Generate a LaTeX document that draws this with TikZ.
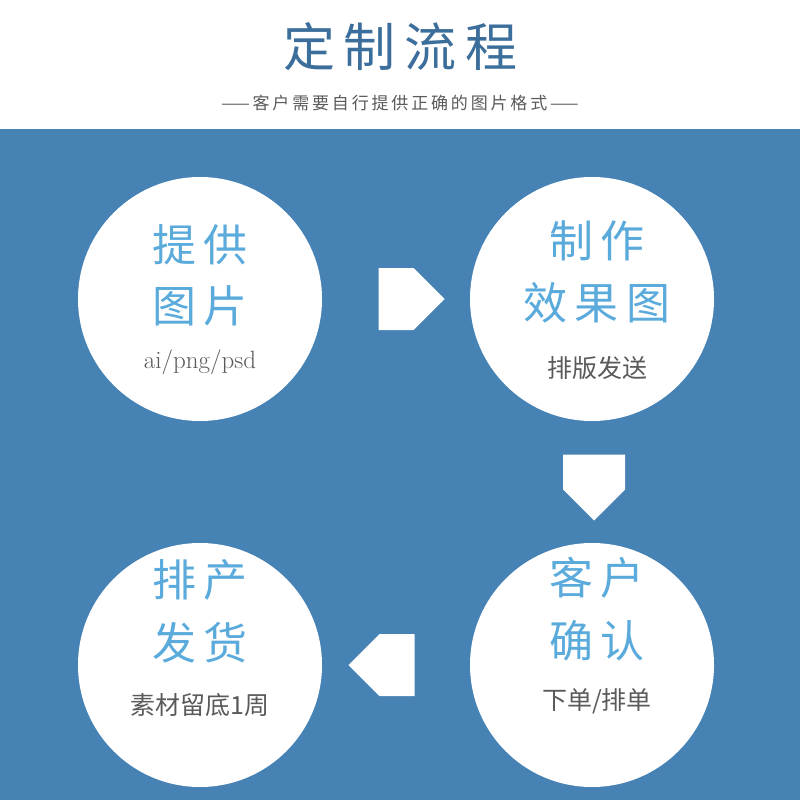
\documentclass[tikz,border=0pt]{standalone}
\usepackage{fontspec}
\newfontfamily\cjk{Noto Sans CJK SC}
\usetikzlibrary{shapes.arrows}
\definecolor{bandblue}{RGB}{70,130,180}
\definecolor{titleblue}{RGB}{60,110,155}
\definecolor{textblue}{RGB}{90,170,220}
\definecolor{subgray}{RGB}{90,90,90}
\tikzset{
  stage/.style={circle, fill=white, minimum size=244pt, inner sep=0pt},
  big/.style={text=textblue, font=\cjk\fontsize{44}{44}\selectfont},
  small/.style={text=subgray, font=\cjk\fontsize{25}{25}\selectfont},
  blockarrow/.style={single arrow, fill=white, draw=none, minimum height=66pt,
    minimum width=62pt, single arrow head extend=0pt, inner sep=9pt}
}
\begin{document}
\begin{tikzpicture}[x=1pt, y=-1pt]
\useasboundingbox (0,0) rectangle (800,800);
\fill[white] (0,0) rectangle (800,129);
\fill[bandblue] (0,129) rectangle (800,800);
% heading
\node[text=titleblue, font=\cjk\fontsize{52}{52}\selectfont] (title) at (400,47) {定\,制\,流\,程};
\node[text=subgray, font=\cjk\fontsize{17}{17}\selectfont] (sub) at (400,103)
  {——\,客\,户\,需\,要\,自\,行\,提\,供\,正\,确\,的\,图\,片\,格\,式\,——};
% circles
\node[stage] (give) at (200,299) {};
\node[stage] (make) at (592,299) {};
\node[stage] (check) at (592,665) {};
\node[stage] (ship) at (200,665) {};
\node[big] at (200,245) {提\,供};
\node[big] at (200,306) {图\,片};
\node[small, font=\fontsize{25}{25}\selectfont] at (200,362) {ai/png/psd};
\node[big] at (597,241) {制\,作};
\node[big] at (597,303) {效\,果\,图};
\node[small] at (597,368) {排版发送};
\node[big] at (597,578) {客\,户};
\node[big] at (597,641) {确\,认};
\node[small] at (597,701) {下单/排单};
\node[big] at (200,580) {排\,产};
\node[big] at (200,643) {发\,货};
\node[small] at (200,705) {素材留底1周};
% arrows
\node[blockarrow] (a1) at (396,299) {};
\node[blockarrow, shape border rotate=270] (a2) at (594,472) {};
\node[blockarrow, shape border rotate=180] (a3) at (397,665) {};
\end{tikzpicture}
\end{document}
